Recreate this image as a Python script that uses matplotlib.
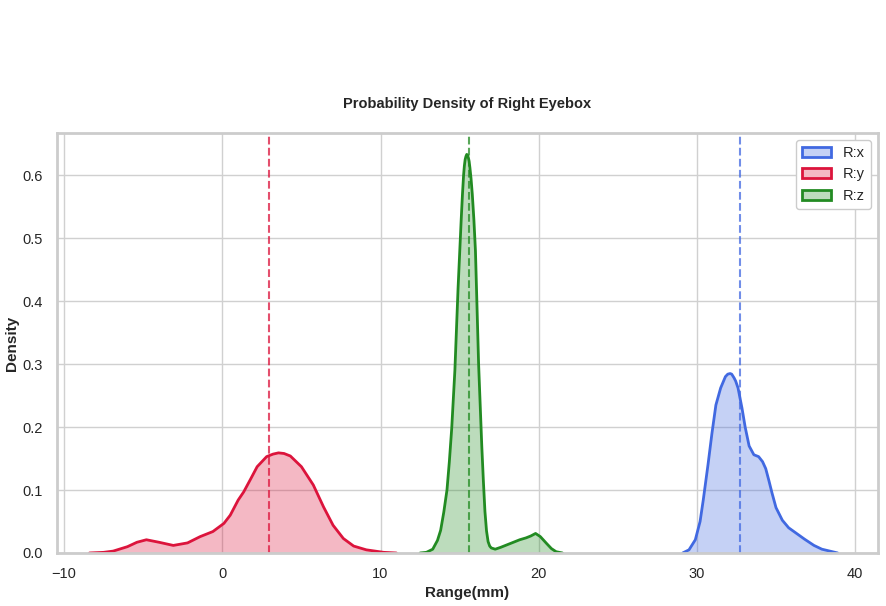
import matplotlib
matplotlib.use("Agg")
import matplotlib.pyplot as plt
import seaborn as sns
from matplotlib.patches import Patch

# ---- data (density curves) ----
x_vals = [29.1, 29.5, 29.9, 30.2, 30.4, 30.7, 30.95, 31.2, 31.5, 31.8, 31.95, 32.1, 32.2, 32.35,
          32.45, 32.6, 32.85, 33.05, 33.3, 33.6, 33.9, 34.15, 34.35, 34.55, 34.75, 35.0, 35.4,
          35.8, 36.3, 36.8, 37.4, 37.9, 38.4, 38.9]
x_dens = [0.0, 0.005, 0.021, 0.05, 0.084, 0.14, 0.19, 0.235, 0.262, 0.28, 0.284, 0.285, 0.284,
          0.278, 0.273, 0.262, 0.23, 0.20, 0.17, 0.156, 0.153, 0.145, 0.134, 0.115, 0.095,
          0.072, 0.052, 0.04, 0.031, 0.022, 0.012, 0.006, 0.003, 0.0]

y_vals = [-8.4, -7.5, -6.9, -6.0, -5.4, -4.8, -4.0, -3.1, -2.2, -1.4, -0.6, 0.1, 0.5, 1.0,
          1.35, 1.8, 2.2, 2.8, 3.2, 3.55, 3.9, 4.3, 5.0, 5.75, 6.4, 7.0, 7.65, 8.3, 9.1, 10.2,
          11.0]
y_dens = [0.0, 0.001, 0.003, 0.010, 0.017, 0.021, 0.017, 0.012, 0.016, 0.026, 0.034, 0.047,
          0.06, 0.084, 0.097, 0.118, 0.137, 0.153, 0.157, 0.159, 0.158, 0.154, 0.137, 0.108,
          0.073, 0.044, 0.023, 0.011, 0.005, 0.001, 0.0]

z_vals = [12.5, 12.9, 13.3, 13.6, 13.8, 14.0, 14.2, 14.35, 14.5, 14.7, 14.9, 15.0, 15.1, 15.18,
          15.25, 15.3, 15.35, 15.4, 15.45, 15.5, 15.55, 15.6, 15.65, 15.72, 15.8, 15.9, 16.0,
          16.1, 16.2, 16.3, 16.4, 16.5, 16.6, 16.7, 16.8, 16.9, 17.0, 17.25, 17.6, 18.0, 18.4,
          18.8, 19.2, 19.5, 19.8, 20.1, 20.5, 20.8, 21.1, 21.5]
z_dens = [0.0, 0.001, 0.006, 0.02, 0.036, 0.065, 0.1, 0.145, 0.198, 0.29, 0.42, 0.475, 0.53,
          0.57, 0.60, 0.615, 0.625, 0.630, 0.633, 0.632, 0.628, 0.622, 0.612, 0.595, 0.57,
          0.53, 0.48, 0.39, 0.30, 0.235, 0.17, 0.115, 0.066, 0.035, 0.018, 0.011, 0.008, 0.006,
          0.009, 0.013, 0.017, 0.021, 0.024, 0.027, 0.031, 0.026, 0.015, 0.007, 0.002, 0.0]

means = [32.73, 2.92, 15.62]
labels = ["R:x", "R:y", "R:z"]
colors = ["royalblue", "crimson", "forestgreen"]

sns.set_theme(style="whitegrid")
plt.rcParams["font.family"] = ["Liberation Sans", "DejaVu Sans"]

fig = plt.figure(figsize=(8.87, 6.06), dpi=100)
ax = fig.add_axes([0.0643, 0.0875, 0.9256, 0.693])

series = [(x_vals, x_dens), (y_vals, y_dens), (z_vals, z_dens)]
handles = []
for (xs, ds), lab, c, m in zip(series, labels, colors, means):
    ax.fill_between(xs, ds, 0, color=c, alpha=0.3, linewidth=0)
    ax.plot(xs, ds, color=c, linewidth=2, solid_joinstyle="round")
    ax.axvline(m, color=c, linestyle="--", linewidth=1.5, alpha=0.75)
    handles.append(Patch(facecolor=matplotlib.colors.to_rgba(c, 0.3), edgecolor=c,
                         linewidth=2, label=lab))

ax.set_xlim(-10.45, 41.45)
ax.set_ylim(0, 0.667)
ax.set_xticks([-10, 0, 10, 20, 30, 40])
ax.set_yticks([0.0, 0.1, 0.2, 0.3, 0.4, 0.5, 0.6])
ax.tick_params(labelsize=10.5, pad=4)
ax.set_xlabel("Range(mm)", fontsize=11, fontweight="bold", labelpad=4)
ax.set_ylabel("Density", fontsize=11, fontweight="bold")
ax.yaxis.set_label_coords(-0.046, 0.5)
ax.set_title("Probability Density of Right Eyebox", fontsize=10.5, fontweight="bold", pad=18)
for s in ax.spines.values():
    s.set_color("#cccccc")
    s.set_linewidth(2)
ax.grid(True, color="#d0d0d0", linewidth=1)

ax.legend(handles=handles, loc="upper right", fontsize=10.5, framealpha=1)

fig.savefig("out.png", dpi=100)
